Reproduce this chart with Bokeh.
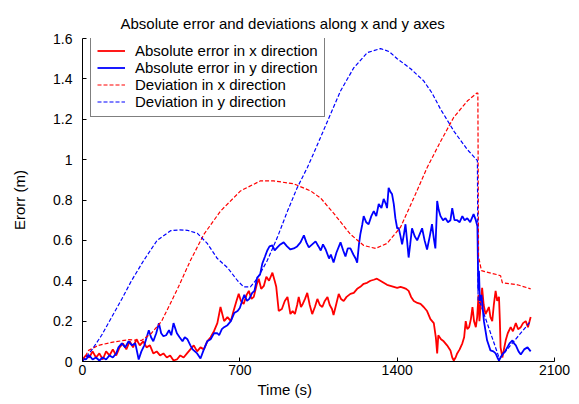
from bokeh.plotting import figure
from bokeh.models import Range1d, Legend, LegendItem, FixedTicker, Title
from bokeh.embed import file_html
from bokeh.resources import INLINE

# Absolute error in x direction (red solid)
t_ex = [0, 15, 30, 45, 60, 75, 90, 105, 120, 135, 150, 165, 180, 195, 210, 225, 240, 255, 270, 285,
        300, 315, 330, 345, 360, 375, 390, 405, 420, 435, 450, 465, 480, 495, 510, 525, 540, 555, 570, 585,
        600, 614, 630, 645, 660, 672, 685, 695, 705, 717, 730, 740, 752, 762, 775, 784, 795, 807, 818, 830,
        845, 855, 862, 873, 887, 900, 912, 925, 935, 945, 955, 962, 972, 980, 990, 1000, 1011, 1022, 1034, 1045,
        1056, 1067, 1078, 1090, 1100, 1110, 1117, 1128, 1140, 1150, 1162, 1175, 1192, 1207, 1222, 1236, 1251, 1266, 1281, 1296,
        1310, 1325, 1340, 1355, 1370, 1385, 1400, 1415, 1429, 1440, 1451, 1462, 1474, 1490, 1504, 1518, 1533, 1548, 1563, 1572,
        1578, 1583, 1595, 1607, 1622, 1637, 1645, 1652, 1660, 1667, 1678, 1690, 1698, 1705, 1712, 1720, 1728, 1735, 1742, 1750,
        1756, 1762, 1766, 1771, 1778, 1785, 1793, 1800, 1808, 1815, 1823, 1830, 1838, 1845, 1853, 1857, 1860, 1868, 1875, 1883,
        1892, 1905, 1915, 1928, 1938, 1950, 1960, 1972, 1982, 1994]
err_x = [0.01, 0.03, 0.02, 0.05, 0.02, 0.04, 0.01, 0.05, 0.03, 0.06, 0.03, 0.07, 0.09, 0.06, 0.10, 0.07, 0.11, 0.08, 0.10, 0.07,
         0.08, 0.04, 0.05, 0.03, 0.04, 0.02, 0.03, 0.005, 0.01, 0.03, 0.02, 0.04, 0.06, 0.08, 0.05, 0.07, 0.06, 0.10, 0.12, 0.15,
         0.19, 0.27, 0.20, 0.22, 0.20, 0.25, 0.30, 0.335, 0.30, 0.285, 0.33, 0.35, 0.31, 0.32, 0.38, 0.41, 0.36, 0.375, 0.42, 0.40,
         0.44, 0.40, 0.37, 0.25, 0.26, 0.30, 0.32, 0.235, 0.25, 0.235, 0.28, 0.32, 0.27, 0.285, 0.31, 0.34, 0.28, 0.235, 0.27, 0.31,
         0.28, 0.27, 0.30, 0.32, 0.28, 0.26, 0.23, 0.28, 0.335, 0.31, 0.30, 0.32, 0.335, 0.34, 0.36, 0.37, 0.385, 0.39, 0.40, 0.405,
         0.41, 0.40, 0.39, 0.38, 0.375, 0.37, 0.365, 0.37, 0.365, 0.36, 0.35, 0.32, 0.30, 0.29, 0.285, 0.27, 0.25, 0.21, 0.19, 0.12,
         0.04, 0.13, 0.11, 0.10, 0.08, 0.055, 0.02, 0.005, 0.02, 0.04, 0.06, 0.09, 0.12, 0.20, 0.16, 0.17, 0.21, 0.27, 0.20, 0.17,
         0.22, 0.33, 0.20, 0.27, 0.365, 0.28, 0.235, 0.25, 0.27, 0.22, 0.20, 0.28, 0.35, 0.30, 0.32, 0.20, 0.07, 0.02, 0.06, 0.105,
         0.14, 0.17, 0.15, 0.19, 0.16, 0.17, 0.19, 0.20, 0.17, 0.22]

# Absolute error in y direction (blue solid)
t_ey = [0, 15, 30, 45, 60, 75, 90, 105, 120, 135, 150, 160, 175, 190, 205, 220, 235, 250, 262, 275,
        295, 305, 315, 328, 340, 350, 360, 372, 385, 395, 405, 420, 432, 445, 455, 467, 480, 490, 500, 510,
        525, 540, 555, 570, 585, 600, 608, 620, 630, 645, 660, 675, 690, 700, 710, 720, 732, 742, 755, 765,
        777, 790, 800, 812, 822, 832, 845, 855, 867, 880, 895, 910, 925, 940, 955, 970, 985, 996, 1007, 1022,
        1037, 1050, 1060, 1070, 1082, 1097, 1105, 1117, 1130, 1148, 1160, 1170, 1180, 1192, 1205, 1215, 1222, 1230, 1236, 1245,
        1251, 1262, 1273, 1285, 1296, 1307, 1318, 1330, 1340, 1350, 1355, 1362, 1370, 1377, 1385, 1392, 1400, 1407, 1415, 1422,
        1430, 1437, 1444, 1451, 1458, 1466, 1478, 1489, 1500, 1511, 1522, 1533, 1545, 1555, 1563, 1570, 1575, 1578, 1585, 1593,
        1604, 1615, 1626, 1637, 1645, 1655, 1667, 1678, 1690, 1700, 1712, 1725, 1740, 1750, 1757, 1761, 1764, 1768, 1775, 1786,
        1800, 1815, 1828, 1838, 1846, 1853, 1860, 1868, 1880, 1890, 1900, 1913, 1920, 1928, 1940, 1950, 1965, 1980, 1994]
err_y = [0.015, 0.01, 0.03, 0.01, 0.02, 0.005, 0.02, 0.01, 0.03, 0.02, 0.04, 0.07, 0.09, 0.07, 0.10, 0.08, 0.09, 0.01, 0.05, 0.08,
         0.155, 0.12, 0.10, 0.14, 0.19, 0.14, 0.125, 0.13, 0.155, 0.13, 0.19, 0.14, 0.12, 0.10, 0.12, 0.11, 0.08, 0.06, 0.05, 0.04,
         0.015, 0.06, 0.10, 0.11, 0.14, 0.14, 0.13, 0.16, 0.17, 0.18, 0.20, 0.24, 0.25, 0.265, 0.30, 0.33, 0.30, 0.31, 0.34, 0.35,
         0.415, 0.43, 0.485, 0.52, 0.55, 0.57, 0.575, 0.55, 0.565, 0.58, 0.59, 0.57, 0.555, 0.56, 0.57, 0.59, 0.625, 0.59, 0.565, 0.58,
         0.595, 0.57, 0.55, 0.58, 0.555, 0.51, 0.53, 0.49, 0.54, 0.59, 0.55, 0.52, 0.56, 0.56, 0.53, 0.51, 0.49, 0.58, 0.63, 0.68,
         0.72, 0.69, 0.68, 0.72, 0.745, 0.72, 0.78, 0.76, 0.805, 0.78, 0.76, 0.86, 0.84, 0.83, 0.78, 0.71, 0.66, 0.66, 0.62, 0.58,
         0.63, 0.68, 0.60, 0.515, 0.58, 0.66, 0.62, 0.60, 0.63, 0.66, 0.60, 0.555, 0.62, 0.68, 0.61, 0.56, 0.70, 0.795, 0.75, 0.72,
         0.70, 0.71, 0.69, 0.70, 0.76, 0.70, 0.70, 0.69, 0.72, 0.70, 0.71, 0.69, 0.73, 0.70, 0.67, 0.35, 0.45, 0.30, 0.33, 0.20,
         0.105, 0.055, 0.05, 0.04, 0.02, 0.005, 0.02, 0.035, 0.05, 0.07, 0.09, 0.105, 0.09, 0.08, 0.05, 0.035, 0.06, 0.07, 0.05]

# Deviation in x direction (red dashed)
t_dx = [0, 27, 71, 130, 205, 262, 307, 352, 390, 427, 480, 540, 614, 703, 792, 850, 940, 1015, 1059, 1117,
        1192, 1251, 1304, 1355, 1415, 1474, 1533, 1593, 1652, 1712, 1755, 1759, 1762, 1775, 1845, 1860, 1868, 1935, 1994]
dev_x = [0.0, 0.055, 0.08, 0.095, 0.108, 0.104, 0.14, 0.20, 0.285, 0.37, 0.50, 0.63, 0.745, 0.845, 0.895, 0.895, 0.88, 0.845, 0.81, 0.735,
         0.63, 0.575, 0.56, 0.585, 0.665, 0.81, 0.96, 1.09, 1.21, 1.29, 1.33, 1.33, 0.52, 0.45, 0.43, 0.425, 0.39, 0.38, 0.36]

# Deviation in y direction (blue dashed)
t_dy = [0, 40, 85, 130, 175, 218, 272, 332, 392, 430, 466, 511, 555, 600, 645, 690, 717, 747, 777, 822,
        867, 912, 955, 1000, 1028, 1090, 1148, 1207, 1267, 1326, 1365, 1400, 1460, 1518, 1555, 1593, 1653, 1712, 1757, 1760,
        1771, 1853, 1860, 1994]
dev_y = [0.0, 0.055, 0.13, 0.22, 0.31, 0.40, 0.50, 0.60, 0.648, 0.652, 0.65, 0.635, 0.585, 0.51, 0.465, 0.40, 0.37, 0.37, 0.41, 0.50,
         0.615, 0.745, 0.86, 0.96, 1.03, 1.19, 1.34, 1.455, 1.53, 1.55, 1.535, 1.50, 1.45, 1.39, 1.33, 1.25, 1.14, 1.05, 0.995, 0.30,
         0.285, 0.02, 0.02, 0.20]

x_ticks = [0, 700, 1400, 2100]
y_ticks = [0, 0.2, 0.4, 0.6, 0.8, 1.0, 1.2, 1.4, 1.6]

labels = ["Absolute error in x direction", "Absolute error in y direction",
          "Deviation in x direction", "Deviation in y direction"]

FONT = "Liberation Sans"

p = figure(frame_width=472, frame_height=323, output_backend="svg", toolbar_location=None,
           x_range=Range1d(0, 2100), y_range=Range1d(0, 1.6),
           min_border_left=82, min_border_right=25, min_border_top=38, min_border_bottom=43)
p.outline_line_color = None
p.xgrid.visible = False
p.ygrid.visible = False
p.background_fill_color = "white"
p.border_fill_color = "white"

r1 = p.line(t_ex, err_x, line_color="#ff0000", line_width=1.8)
r2 = p.line(t_ey, err_y, line_color="#0000ff", line_width=1.8)
r3 = p.line(t_dx, dev_x, line_color="#ff0000", line_width=1.2, line_dash="4 2")
r4 = p.line(t_dy, dev_y, line_color="#0000ff", line_width=1.2, line_dash="4 2")

for ax in (p.xaxis[0], p.yaxis[0]):
    ax.axis_line_color = "black"
    ax.major_tick_in = 4
    ax.major_tick_out = 0
    ax.minor_tick_in = 0
    ax.minor_tick_out = 0
    ax.major_label_text_font = FONT
    ax.major_label_text_font_size = "14px"
    ax.major_label_text_color = "black"
    ax.axis_label_text_font = FONT
    ax.axis_label_text_font_size = "15px"
    ax.axis_label_text_font_style = "normal"
    ax.axis_label_text_color = "black"

p.xaxis.ticker = FixedTicker(ticks=x_ticks)
p.yaxis.ticker = FixedTicker(ticks=y_ticks)
p.yaxis.major_label_overrides = {0: "0", 1.0: "1"}
p.xaxis.major_label_standoff = 3
p.yaxis.major_label_standoff = 10
p.yaxis.axis_label = "Erorr (m)"
p.yaxis.axis_label_standoff = 22

p.title.visible = False
p.add_layout(Title(text="Absolute error and deviations along x and y axes", align="left", offset=38,
                   text_font=FONT, text_font_size="15px", text_font_style="normal",
                   text_color="black", standoff=13), "above")
p.add_layout(Title(text="Time (s)", align="left", offset=175,
                   text_font=FONT, text_font_size="15px", text_font_style="normal",
                   text_color="black", standoff=2), "below")

legend = Legend(items=[LegendItem(label=labels[0], renderers=[r1]),
                       LegendItem(label=labels[1], renderers=[r2]),
                       LegendItem(label=labels[2], renderers=[r3]),
                       LegendItem(label=labels[3], renderers=[r4])],
                location=(8, 244))
legend.label_text_font = FONT
legend.label_text_font_size = "15px"
legend.label_text_color = "black"
legend.label_height = 15
legend.glyph_height = 15
legend.glyph_width = 28
legend.label_standoff = 10
legend.spacing = 0
legend.padding = 6
legend.margin = 0
legend.border_line_color = "black"
legend.border_line_width = 1
legend.background_fill_alpha = 1
p.add_layout(legend, "center")

open("out.html", "w").write(file_html(p, INLINE))
